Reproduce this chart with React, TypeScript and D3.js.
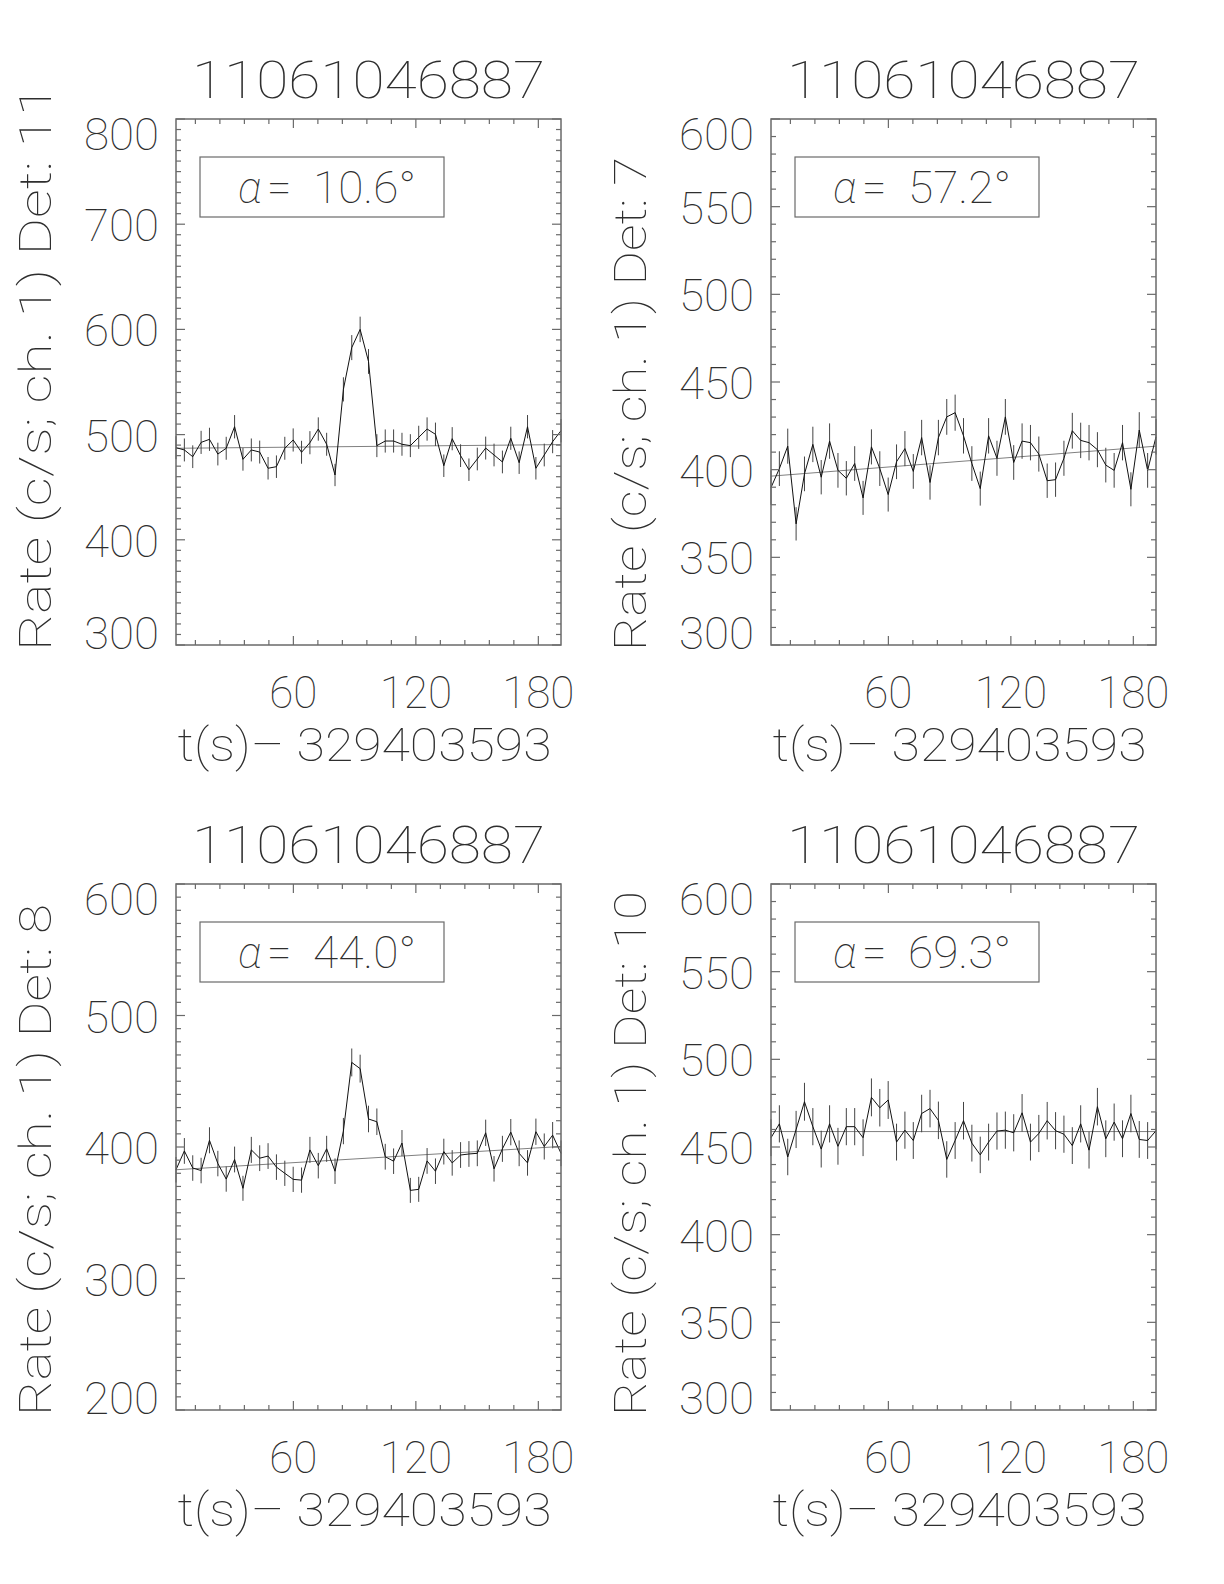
import React from 'react';
import * as d3 from 'd3';

// ---- data ----
const TIMES = [2.5, 6.6, 10.7, 14.8, 18.9, 23.0, 27.1, 31.2, 35.3, 39.4, 43.5, 47.6, 51.7, 55.8, 59.9, 64.0, 68.1, 72.2, 76.3, 80.4, 84.5, 88.6, 92.7, 96.8, 100.9, 105.0, 109.1, 113.2, 117.3, 121.4, 125.5, 129.6, 133.7, 137.8, 141.9, 146.0, 150.1, 154.2, 158.3, 162.4, 166.5, 170.6, 174.7, 178.8, 182.9, 187.0, 191.1];

const TITLE = '11061046887';
const X_TITLE = 't(s)\u2013 329403593';
const DETECTORS = ['11', '7', '8', '10'];
const ALPHAS = ['10.6', '57.2', '44.0', '69.3'];

const RATE_DET11 = [487.6, 485.4, 479, 492.6, 495.5, 481.5, 487, 507.5, 476.5, 485.4, 483.4, 468, 469.5, 487, 494.9, 483.2, 492.3, 505.3, 490.8, 461.6, 543, 582.7, 600, 569.5, 489.5, 493.9, 493.9, 490.8, 489.5, 497.4, 505.3, 500.3, 470.4, 496.1, 480, 466.6, 476.8, 487.2, 480.6, 474, 496.5, 473.3, 507.5, 468, 480.6, 493.3, 503.7];
const ERR_DET11 = [10.9, 10.9, 10.8, 11.0, 11.0, 10.8, 10.9, 11.1, 10.8, 10.9, 10.9, 10.7, 10.7, 10.9, 11.0, 10.9, 11.0, 11.1, 10.9, 10.6, 11.5, 11.9, 12.1, 11.8, 10.9, 11.0, 11.0, 10.9, 10.9, 11.0, 11.1, 11.1, 10.7, 11.0, 10.8, 10.7, 10.8, 10.9, 10.8, 10.8, 11.0, 10.7, 11.1, 10.7, 10.8, 11.0, 11.1];
const FIT_DET11 = [487, 490.5];

const RATE_DET7 = [389.8, 400.6, 413.4, 369.1, 397.6, 414.4, 395.7, 416.3, 399.6, 395.1, 403.5, 383.9, 413, 400.6, 385.8, 404.5, 412, 399, 418.3, 392.7, 418.3, 430.1, 432.5, 419.3, 403.5, 389.2, 419.3, 406.5, 430.1, 404.1, 416.3, 415.4, 408.9, 393.7, 394.3, 406.5, 422.2, 416.7, 415.4, 411.4, 402.6, 399.6, 415.4, 388.8, 422.6, 399.6, 418.7];
const ERR_DET7 = [9.8, 9.9, 10.0, 9.5, 9.9, 10.1, 9.8, 10.1, 9.9, 9.8, 9.9, 9.7, 10.0, 9.9, 9.7, 9.9, 10.0, 9.9, 10.1, 9.8, 10.1, 10.2, 10.3, 10.1, 9.9, 9.7, 10.1, 10.0, 10.2, 9.9, 10.1, 10.1, 10.0, 9.8, 9.8, 10.0, 10.2, 10.1, 10.1, 10.0, 9.9, 9.9, 10.1, 9.7, 10.2, 9.9, 10.1];
const FIT_DET7 = [396.3, 413.4];

const RATE_DET8 = [382.7, 397, 384, 382.1, 405.1, 387.4, 375.6, 390.5, 368.6, 397.8, 391.5, 393.1, 384.7, 380, 375.4, 374.8, 397.8, 385.8, 398.6, 381.6, 412.1, 464.3, 459.6, 421.3, 419.2, 392.6, 389.2, 403, 367, 367.8, 389.4, 381.6, 396.5, 387.9, 393.9, 394.7, 395.2, 410.8, 383.4, 398.6, 411.3, 395.2, 387.9, 411.6, 400.4, 409, 395.2];
const ERR_DET8 = [9.7, 9.8, 9.7, 9.7, 9.9, 9.7, 9.6, 9.8, 9.5, 9.9, 9.8, 9.8, 9.7, 9.6, 9.6, 9.6, 9.9, 9.7, 9.9, 9.7, 10.0, 10.6, 10.6, 10.1, 10.1, 9.8, 9.7, 9.9, 9.5, 9.5, 9.8, 9.7, 9.8, 9.7, 9.8, 9.8, 9.8, 10.0, 9.7, 9.9, 10.0, 9.8, 9.7, 10.0, 9.9, 10.0, 9.8];
const FIT_DET8 = [382.7, 400.4];

const RATE_DET10 = [455.3, 463.2, 444.3, 460, 475.8, 461.6, 448.8, 463.2, 450.4, 461.6, 461.6, 455.3, 478.3, 472.4, 476.8, 452.8, 459.6, 453.7, 469.1, 471.9, 465.2, 442.9, 453.7, 465, 452.2, 445.5, 452.8, 459.1, 459.6, 458.1, 469.5, 452.8, 457.7, 465, 459.3, 457.3, 450.8, 463.2, 448.2, 473, 454.7, 464.2, 454.7, 469.1, 454.3, 453.7, 459.3];
const ERR_DET10 = [10.5, 10.6, 10.4, 10.6, 10.8, 10.6, 10.5, 10.6, 10.5, 10.6, 10.6, 10.5, 10.8, 10.7, 10.8, 10.5, 10.6, 10.5, 10.7, 10.7, 10.7, 10.4, 10.5, 10.7, 10.5, 10.4, 10.5, 10.6, 10.6, 10.6, 10.7, 10.5, 10.6, 10.7, 10.6, 10.6, 10.5, 10.6, 10.5, 10.7, 10.5, 10.6, 10.5, 10.7, 10.5, 10.5, 10.6];
const FIT_DET10 = [458.8, 458.8];

const Y_DOMAINS = [[300, 800], [300, 600], [200, 600], [300, 600]];
const Y_MAJOR_STEP = [100, 50, 100, 50];
const Y_MINOR_STEP = 10;
const X_MAJOR = [60, 120, 180];
const X_MINOR_STEP = 12;

const RATES = [RATE_DET11, RATE_DET7, RATE_DET8, RATE_DET10];
const ERRS = [ERR_DET11, ERR_DET7, ERR_DET8, ERR_DET10];
const FITS = [FIT_DET11, FIT_DET7, FIT_DET8, FIT_DET10];

// ---- layout ----
const W = 1224;
const H = 1584;
const PW = 385;
const PH = 526;
const LEFTS = [176, 771, 176, 771];
const TOPS = [119, 119, 884, 884];
const YTITLE_LEN = [566, 494, 512, 525];
const FONT = "Roboto, 'DejaVu Sans', sans-serif";
const TEXT_FILL = '#2e2e2e';
const TEXT_WEIGHT = 100;
const FRAME = '#6a6a6a';

function Panel({ idx }: { idx: number }) {
  const left = LEFTS[idx];
  const top = TOPS[idx];
  const [lo, hi] = Y_DOMAINS[idx];
  const x = d3.scaleLinear().domain([TIMES[0], TIMES[TIMES.length - 1]]).range([left, left + PW]);
  const y = d3.scaleLinear().domain([lo, hi]).range([top + PH, top]);
  const rates = RATES[idx];
  const errs = ERRS[idx];
  const fit = FITS[idx];

  const line = d3.line<number>().x((_, i) => x(TIMES[i])).y((d) => y(d));
  const fitLine = d3.line<number>().x((_, i) => x(i === 0 ? TIMES[0] : TIMES[TIMES.length - 1])).y((d) => y(d));

  const yMajor = d3.range(lo, hi + 0.001, Y_MAJOR_STEP[idx]);
  const yMinor = d3.range(lo, hi + 0.001, Y_MINOR_STEP).filter((v) => !yMajor.includes(v));
  const xMinor = d3.range(X_MINOR_STEP, TIMES[TIMES.length - 1], X_MINOR_STEP).filter((v) => !X_MAJOR.includes(v));

  const MAJ = 9;
  const MIN = 5;
  const bottom = top + PH;
  const right = left + PW;
  const common = { fontFamily: FONT, fontWeight: TEXT_WEIGHT, fill: TEXT_FILL } as const;

  return (
    <g>
      {/* title */}
      <text x={left + PW / 2} y={top - 21} textAnchor="middle" fontSize={52} textLength={353} lengthAdjust="spacingAndGlyphs" {...common}>
        {TITLE}
      </text>
      {/* y title */}
      <text transform={`translate(${left - 125},${bottom + 6}) rotate(-90)`} textAnchor="start" fontSize={44} textLength={YTITLE_LEN[idx]} lengthAdjust="spacingAndGlyphs" {...common}>
        {`Rate (c/s; ch. 1) Det: ${DETECTORS[idx]}`}
      </text>
      {/* x title */}
      <text x={left + PW / 2 - 4} y={bottom + 116} textAnchor="middle" fontSize={46} textLength={374} lengthAdjust="spacingAndGlyphs" {...common}>
        {X_TITLE}
      </text>

      {/* fit */}
      <path d={fitLine(fit) || ''} fill="none" stroke="#808080" strokeWidth={1} />
      {/* error bars */}
      {rates.map((r, i) => (
        <line key={`e${i}`} x1={x(TIMES[i])} x2={x(TIMES[i])} y1={y(r - errs[i])} y2={y(r + errs[i])} stroke="#444" strokeWidth={1} />
      ))}
      {/* data */}
      <path d={line(rates) || ''} fill="none" stroke="#111" strokeWidth={1} />

      {/* frame */}
      <rect x={left} y={top} width={PW} height={PH} fill="none" stroke={FRAME} strokeWidth={1.5} />
      {/* y ticks */}
      {yMajor.map((v) => (
        <g key={`ym${v}`}>
          <line x1={left} x2={left + MAJ} y1={y(v)} y2={y(v)} stroke={FRAME} strokeWidth={1.2} />
          <line x1={right} x2={right - MAJ} y1={y(v)} y2={y(v)} stroke={FRAME} strokeWidth={1.2} />
        </g>
      ))}
      {yMinor.map((v) => (
        <g key={`yn${v}`}>
          <line x1={left} x2={left + MIN} y1={y(v)} y2={y(v)} stroke={FRAME} strokeWidth={1.2} />
          <line x1={right} x2={right - MIN} y1={y(v)} y2={y(v)} stroke={FRAME} strokeWidth={1.2} />
        </g>
      ))}
      {/* x ticks */}
      {X_MAJOR.map((v) => (
        <g key={`xm${v}`}>
          <line x1={x(v)} x2={x(v)} y1={bottom} y2={bottom - MAJ} stroke={FRAME} strokeWidth={1.2} />
          <line x1={x(v)} x2={x(v)} y1={top} y2={top + MAJ} stroke={FRAME} strokeWidth={1.2} />
        </g>
      ))}
      {xMinor.map((v) => (
        <g key={`xn${v}`}>
          <line x1={x(v)} x2={x(v)} y1={bottom} y2={bottom - MIN} stroke={FRAME} strokeWidth={1.2} />
          <line x1={x(v)} x2={x(v)} y1={top} y2={top + MIN} stroke={FRAME} strokeWidth={1.2} />
        </g>
      ))}

      {/* y tick labels */}
      {yMajor.map((v) => {
        const c = Math.min(Math.max(y(v) + 1.5, top + 15), bottom - 12);
        return (
          <text key={`yl${v}`} x={left - 17} y={c + 15.5} textAnchor="end" fontSize={44} textLength={75} lengthAdjust="spacingAndGlyphs" {...common}>
            {String(v)}
          </text>
        );
      })}
      {/* x tick labels */}
      {X_MAJOR.map((v) => (
        <text key={`xl${v}`} x={x(v)} y={bottom + 63} textAnchor="middle" fontSize={44} {...common}>
          {String(v)}
        </text>
      ))}

      {/* alpha box */}
      <rect x={left + 24} y={top + 38} width={244} height={60} fill="none" stroke={FRAME} strokeWidth={1.2} />
      <text x={left + 62} y={top + 84} fontSize={44} fontStyle="italic" {...common}>α</text>
      <text x={left + 91} y={top + 84} fontSize={44} {...common}>=</text>
      <text x={left + 137} y={top + 84} fontSize={44} textLength={103} lengthAdjust="spacingAndGlyphs" {...common}>
        {`${ALPHAS[idx]}°`}
      </text>
    </g>
  );
}

export default function App() {
  return (
    <svg width={W} height={H} style={{ position: 'absolute', left: 0, top: 0, background: '#fff' }} xmlns="http://www.w3.org/2000/svg">
      <rect x={0} y={0} width={W} height={H} fill="#fff" />
      {[0, 1, 2, 3].map((i) => (
        <Panel key={i} idx={i} />
      ))}
    </svg>
  );
}
